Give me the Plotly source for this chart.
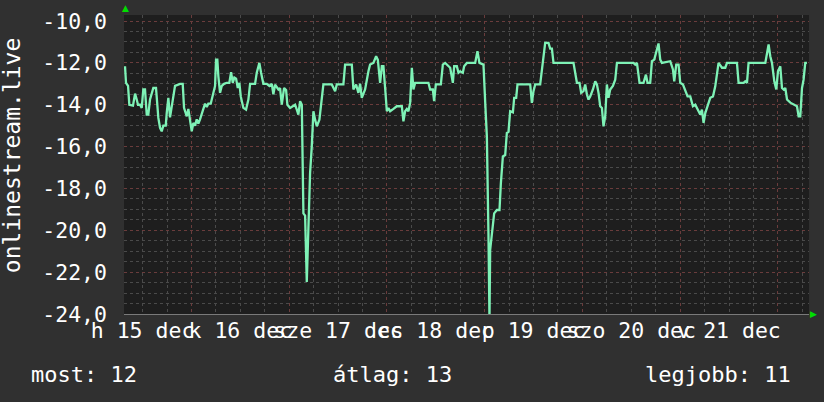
import pandas as pd
import plotly.graph_objects as go

# ---- data (hours since 2025-12-15 00:00, value) ----
BASE = "2025-12-15 00:00"
hours = [7.69, 7.93, 8.43, 8.75, 9.65, 10.15, 10.56, 10.88, 11.37, 11.79, 12.18, 12.60, 13.02, 13.41, 13.83,
         14.64, 15.30, 15.87, 16.29, 16.70, 17.10, 17.69, 17.93, 18.33, 18.74, 19.16, 19.55, 19.97, 21.20, 21.86,
         22.18, 22.85, 23.24, 23.66, 24.07, 24.47, 24.88, 25.30, 25.70, 26.11, 26.53, 26.92, 27.34, 27.76, 28.15,
         28.74, 29.23, 29.80, 30.04, 30.36, 30.61, 31.03, 31.44, 32.01, 32.67, 33.31, 33.73, 34.15, 34.54, 34.96,
         35.37, 35.77, 36.11, 36.75, 37.41, 37.98, 38.40, 39.62, 40.04, 40.68, 41.10, 41.66, 42.50, 43.14, 43.73,
         44.12, 44.54, 45.35, 45.76, 46.18, 46.75, 47.24, 47.56, 48.22, 48.88, 49.45, 49.87, 50.26, 50.68, 51.10,
         51.49, 51.91, 52.32, 52.72, 53.13, 53.55, 53.95, 54.36, 54.78, 55.42, 56.01, 56.40, 58.46, 59.28, 59.69,
         61.31, 61.73, 63.38, 63.77, 64.43, 65.00, 65.42, 65.83, 66.64, 67.46, 67.87, 68.68, 69.35, 69.77, 70.33,
         70.75, 71.14, 71.56, 71.98, 72.37, 72.79, 73.60, 74.43, 75.66, 76.05, 76.47, 76.89, 77.28, 77.70, 78.12,
         78.51, 78.93, 82.19, 82.61, 83.27, 83.59, 84.01, 85.24, 85.73, 86.30, 87.53, 88.19, 88.51, 89.17, 89.57,
         89.98, 90.64, 90.96, 91.63, 93.67, 94.23, 94.72, 95.71, 96.12, 96.54, 96.93, 97.18, 97.35, 97.77, 98.33,
         99.00, 99.64, 99.98, 100.47, 101.04, 101.45, 101.85, 102.26, 102.93, 103.25, 103.74, 104.06, 107.18, 107.59,
         107.99, 108.41, 109.63, 110.05, 110.44, 110.86, 111.67, 112.09, 112.51, 112.90, 117.81, 118.23, 118.65,
         119.29, 119.70, 120.27, 120.69, 121.11, 121.50, 121.92, 122.58, 123.15, 123.56, 123.96, 124.37, 124.79,
         125.18, 125.60, 126.01, 126.41, 126.83, 127.49, 128.06, 128.48, 132.55, 132.97, 133.39, 134.03, 135.01,
         135.60, 135.99, 136.65, 137.07, 137.64, 138.13, 138.69, 139.11, 139.53, 141.57, 142.23, 142.55, 143.04,
         143.61, 144.02, 144.69, 145.25, 145.82, 146.48, 147.14, 147.71, 148.52, 148.94, 149.35, 149.75, 150.17,
         150.73, 151.39, 152.06, 152.62, 153.43, 154.27, 155.08, 155.50, 157.95, 158.35, 159.57, 159.99, 160.41,
         160.80, 164.91, 165.32, 165.72, 166.13, 166.55, 167.12, 167.61, 168.02, 168.59, 169.01, 169.40, 169.82,
         170.24, 171.05, 171.86, 172.69, 173.09, 173.50, 173.92, 174.31, 174.72, 175.13]
values = [-12.16, -12.95, -13.10, -14.00, -14.04, -13.47, -13.75, -14.00, -14.00, -14.15, -13.27, -13.27, -14.47,
          -14.47, -13.75, -13.20, -13.20, -14.63, -15.10, -15.27, -15.00, -15.00, -14.40, -13.67, -14.60, -14.04,
          -13.60, -13.10, -13.00, -13.00, -14.15, -14.55, -14.20, -14.71, -15.27, -14.87, -15.00, -14.70, -14.90,
          -14.70, -14.47, -14.20, -13.95, -14.10, -13.95, -13.95, -13.50, -13.10, -11.84, -11.84, -12.64, -13.43,
          -13.10, -13.00, -12.95, -12.95, -12.44, -12.95, -12.70, -12.75, -13.20, -12.95, -13.60, -14.15, -14.23,
          -13.75, -13.00, -13.00, -12.47, -12.00, -12.47, -13.00, -13.00, -13.10, -13.00, -13.50, -13.04, -13.27,
          -13.20, -13.99, -13.20, -13.30, -14.00, -14.15, -14.07, -14.00, -14.23, -14.47, -13.83, -14.00, -19.19,
          -19.30, -22.47, -19.67, -17.27, -15.99, -14.31, -14.71, -15.03, -14.71, -13.67, -13.03, -13.03, -13.35,
          -13.03, -13.03, -12.08, -12.08, -13.27, -13.03, -13.43, -13.00, -13.67, -13.27, -12.40, -12.08, -12.00,
          -11.68, -11.85, -12.95, -12.16, -12.16, -13.20, -14.31, -14.15, -14.31, -14.20, -14.07, -14.07, -14.79,
          -14.31, -14.20, -14.31, -13.91, -12.23, -13.27, -12.95, -12.95, -13.27, -13.27, -13.83, -13.03, -13.03,
          -12.08, -12.00, -12.23, -12.95, -12.16, -12.16, -12.47, -12.40, -12.47, -12.16, -12.00, -12.00, -11.44,
          -12.00, -12.08, -13.83, -15.51, -20.14, -24.30, -20.94, -20.30, -19.19, -19.03, -19.03, -17.75, -16.47,
          -16.40, -15.35, -15.30, -14.31, -14.36, -13.67, -13.67, -13.03, -13.03, -13.91, -13.35, -13.03, -13.03,
          -12.40, -11.92, -11.04, -11.04, -11.32, -11.32, -12.00, -12.00, -12.40, -12.95, -12.95, -13.43, -13.35,
          -13.03, -13.51, -13.75, -13.60, -13.27, -12.88, -13.03, -13.43, -14.07, -14.15, -15.03, -14.55, -13.03,
          -13.67, -13.27, -13.10, -12.80, -12.00, -12.00, -12.08, -12.00, -12.95, -12.95, -12.56, -12.95, -12.95,
          -11.92, -11.84, -11.44, -11.07, -11.84, -12.00, -11.92, -12.31, -12.88, -12.08, -12.08, -12.95, -13.03,
          -13.27, -13.60, -13.60, -14.07, -14.00, -14.31, -14.47, -14.23, -14.87, -14.40, -14.07, -13.67, -13.60,
          -13.12, -12.00, -12.23, -12.23, -12.00, -12.00, -12.95, -12.95, -12.88, -12.95, -12.00, -12.00, -11.44,
          -11.12, -11.68, -12.00, -12.88, -13.27, -12.40, -12.16, -13.20, -13.27, -13.20, -13.75, -13.90, -14.00,
          -14.07, -14.55, -14.55, -13.20, -12.80, -12.00, -12.00]

day_labels = ["h 15 dec", "k 16 dec", "sze 17 dec", "cs 18 dec", "p 19 dec", "szo 20 dec", "v 21 dec"]
y_ticks = [-24, -22, -20, -18, -16, -14, -12, -10]
y_ticktext = ["-24,0", "-22,0", "-20,0", "-18,0", "-16,0", "-14,0", "-12,0", "-10,0"]
series_name = "onlinestream.live"
footer = ["most: 12", "átlag: 13", "legjobb: 11"]
x_range_hours = [7.44, 175.64]
y_range = [-24, -9.71]

base = pd.Timestamp(BASE)
xs = base + pd.to_timedelta(hours, unit="h")
midnights = [base + pd.Timedelta(days=i + 1) for i in range(len(day_labels))]
noons = [base + pd.Timedelta(days=i, hours=12) for i in range(len(day_labels))]
xr = [base + pd.Timedelta(hours=h) for h in x_range_hours]

MONO = "DejaVu Sans Mono"
TXT = "#ffffff"
MAJ = "#6a3c3c"
MIN = "#4a4a4a"

fig = go.Figure()
fig.add_trace(go.Scatter(x=xs, y=values, mode="lines", line=dict(color="#7ef2b6", width=2.3),
                         cliponaxis=True, showlegend=False, hoverinfo="skip"))
fig.add_trace(go.Scatter(x=noons, y=[None] * len(noons), xaxis="x2", mode="markers",
                         showlegend=False, hoverinfo="skip"))

fig.update_layout(
    width=824, height=402,
    margin=dict(l=124, r=15, t=15, b=88, autoexpand=False),
    paper_bgcolor="#303030", plot_bgcolor="#1e1e1e",
    font=dict(family=MONO, color=TXT, size=20),
    hovermode=False,
    xaxis=dict(type="date", range=xr, tickvals=midnights, showticklabels=False, automargin=False,
               showgrid=True, gridcolor=MAJ, griddash="dot", gridwidth=1,
               minor=dict(dtick=6 * 3600 * 1000, tick0=base, showgrid=True, gridcolor=MIN,
                          griddash="dot", gridwidth=1),
               zeroline=False, showline=True, linecolor="#7a7a7a", linewidth=1, ticks=""),
    xaxis2=dict(type="date", overlaying="x", anchor="y", side="bottom", range=xr, automargin=False,
                tickvals=noons, ticktext=day_labels, tickangle=0, showgrid=False,
                zeroline=False, showline=False, ticks="",
                tickfont=dict(family=MONO, size=21.5, color=TXT), ticklabelstandoff=1),
    yaxis=dict(range=y_range, tickvals=y_ticks, ticktext=y_ticktext, automargin=False,
               showgrid=True, gridcolor=MAJ, griddash="dot", gridwidth=1,
               minor=dict(dtick=0.5, tick0=0, showgrid=True, gridcolor=MIN, griddash="dot", gridwidth=1),
               zeroline=False, showline=False, ticks="",
               tickfont=dict(family=MONO, size=21.5, color=TXT), ticklabelstandoff=16),
    annotations=[
        dict(text=series_name, xref="paper", yref="paper", x=-0.1635, y=0.528, textangle=-90,
             showarrow=False, font=dict(family=MONO, size=23, color=TXT), xanchor="center", yanchor="middle"),
        dict(text=footer[0], xref="paper", yref="paper", x=-0.138, y=-0.204, xanchor="left",
             yanchor="middle", showarrow=False, font=dict(family=MONO, size=22, color=TXT)),
        dict(text=footer[1], xref="paper", yref="paper", x=0.392, y=-0.204, xanchor="center",
             yanchor="middle", showarrow=False, font=dict(family=MONO, size=22, color=TXT)),
        dict(text=footer[2], xref="paper", yref="paper", x=0.9766, y=-0.204, xanchor="right",
             yanchor="middle", showarrow=False, font=dict(family=MONO, size=22, color=TXT)),
        dict(text="▲", xref="paper", yref="paper", x=0.0015, y=1.0, xanchor="center", yanchor="bottom",
             showarrow=False, font=dict(family="DejaVu Sans", size=9, color="#00dd00")),
        dict(text="▶", xref="paper", yref="paper", x=0.998, y=0.0, xanchor="left", yanchor="middle",
             showarrow=False, font=dict(family="DejaVu Sans", size=9, color="#00dd00")),
    ],
)

fig.write_html("out.html", config={"displayModeBar": False, "staticPlot": True},
               post_script="document.body.style.margin='0';document.body.style.background='#303030';")
